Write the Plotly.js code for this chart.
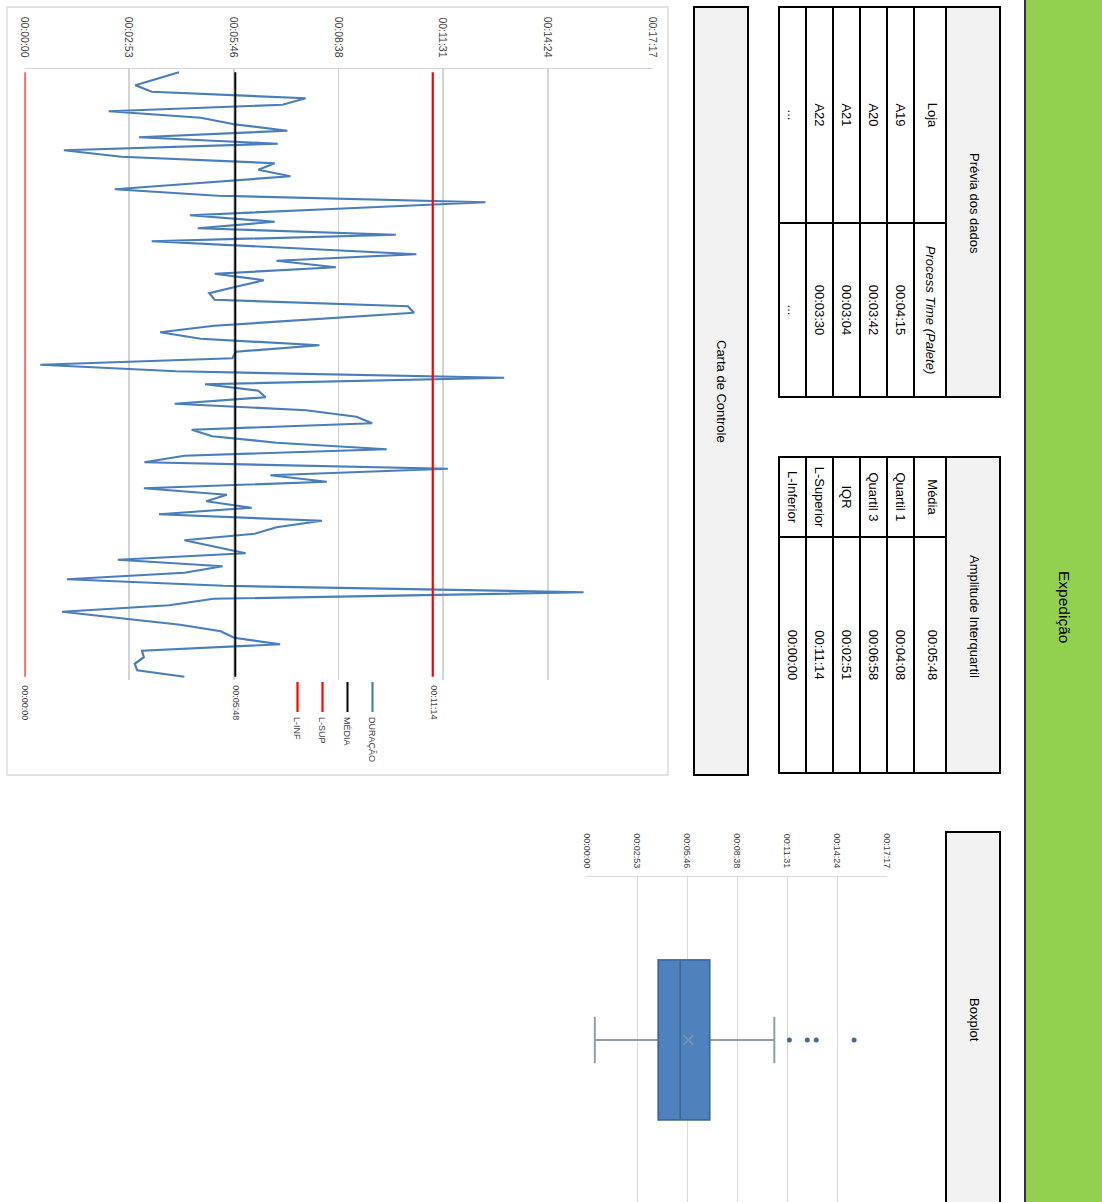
<!DOCTYPE html>
<html><head><meta charset="utf-8">
<script src="https://cdn.plot.ly/plotly-3.0.1.min.js"></script>
<style>
html,body{margin:0;padding:0;width:1102px;height:1202px;overflow:hidden;background:#fff;}
#wrap{position:absolute;left:0;top:0;width:1202px;height:1102px;transform-origin:0 0;}
#chart{width:1202px;height:1102px;}
</style></head><body><div id="wrap"><div id="chart"></div></div>
<script>
// ---- data (seconds) ----
const duracao = [255,220,183,210,464,426,139,291,346,434,
  189,418,65,160,413,386,439,295,149,319,
  761,517,273,413,286,613,210,430,647,416,
  514,314,395,349,305,314,633,643,480,313,
  224,291,487,349,343,26,250,792,298,386,
  398,248,465,548,574,276,310,416,598,264,
  198,699,406,499,197,334,300,375,222,491,
  416,380,264,315,365,154,327,264,70,328,
  923,312,239,62,160,257,324,346,422,194,
  197,182,186,264];
const mediaValue = 348;        // 00:05:48
const limiteSuperior = 674;    // 00:11:14
const limiteInferior = 0;      // 00:00:00
const lineLabels = ['00:05:48','00:11:14','00:00:00'];
const seriesNames = ['DURAÇÃO','MÉDIA','L-SUP','L-INF'];
const valueTickVals = [0,172.8,345.6,518.4,691.2,864,1036.8];
const valueTickText = ['00:00:00','00:02:53','00:05:46','00:08:38','00:11:31','00:14:24','00:17:17'];

const previaHeader = ['Loja','<i>Process Time (Palete)</i>'];
const previaLojas = ['A19','A20','A21','A22','...'];
const previaTimes = ['00:04:15','00:03:42','00:03:04','00:03:30','...'];

const ampLabels = ['Média','Quartil 1','Quartil 3','IQR','L-Superior','L-Inferior'];
const ampValues = ['00:05:48','00:04:08','00:06:58','00:02:51','00:11:14','00:00:00'];

const titles = {main:'Expedição', previa:'Prévia dos dados', amp:'Amplitude Interquartil', box:'Boxplot', carta:'Carta de Controle'};

// ---- helpers ----
const W = 1202, H = 1102;
const U = u => u / W;
const V = v => 1 - v / H;
const FONT = 'Liberation Sans, Arial, sans-serif';

const idx = duracao.map((_, i) => i);
const last = duracao.length - 1;
const mediaSeries = idx.map(() => mediaValue);
const supSeries = idx.map(() => limiteSuperior);
const infSeries = idx.map(() => limiteInferior);
const lastLabel = lbl => idx.map(i => i === last ? lbl : '');

// box statistics (Excel exclusive quartiles)
const sorted = [...duracao].sort((a, b) => a - b);
const n = sorted.length;
function qexc(p) {
  const pos = p * (n + 1) - 1;
  const lo = Math.floor(pos), fr = pos - lo;
  return sorted[lo] + fr * (sorted[lo + 1] - sorted[lo]);
}
const q1 = qexc(0.25), med = qexc(0.5), q3 = qexc(0.75);
const iqr = q3 - q1;
const lowF = Math.min(...sorted.filter(v => v >= q1 - 1.5 * iqr));
const upF = Math.max(...sorted.filter(v => v <= q3 + 1.5 * iqr));
const outliers = sorted.filter(v => v < lowF || v > upF);
const mean = duracao.reduce((a, b) => a + b, 0) / n;

const blue = '#4A7EBB';
const lblFont = {size:9, color:'#404040', family:FONT};
const hiddenMarker = {size:12, color:'rgba(0,0,0,0)', line:{width:0}};
const traces = [
  {type:'scatter', mode:'lines', x:idx, y:duracao, name:seriesNames[0], legendgroup:'a',
   line:{color:blue, width:2.2}, xaxis:'x', yaxis:'y'},
  {type:'scatter', mode:'lines+markers+text', x:idx, y:mediaSeries, name:seriesNames[1], legendgroup:'b',
   text:lastLabel(lineLabels[0]), textposition:'middle right', cliponaxis:false, textfont:lblFont,
   marker:hiddenMarker, line:{color:'#000000', width:2}, xaxis:'x', yaxis:'y'},
  {type:'scatter', mode:'lines+markers+text', x:idx, y:supSeries, name:seriesNames[2], legendgroup:'c',
   text:lastLabel(lineLabels[1]), textposition:'middle right', cliponaxis:false, textfont:lblFont,
   marker:hiddenMarker, line:{color:'#FF0000', width:2.2}, xaxis:'x', yaxis:'y'},
  {type:'scatter', mode:'lines+markers+text', x:idx, y:infSeries, name:seriesNames[3], legendgroup:'d',
   text:lastLabel(lineLabels[2]), textposition:'middle right', cliponaxis:false, textfont:lblFont,
   marker:hiddenMarker, line:{color:'#FF0000', width:2.2}, xaxis:'x', yaxis:'y'},
  // boxplot: whiskers (grey)
  {type:'box', x:[0], q1:[q1], median:[med], q3:[q3], lowerfence:[lowF], upperfence:[upF],
   width:0.49, whiskerwidth:0.29, fillcolor:'#4F81BD', line:{color:'#8D9EAD', width:2},
   boxpoints:false, showlegend:false, xaxis:'x2', yaxis:'y2', hoverinfo:'skip'},
  // boxplot: box body (blue outline)
  {type:'box', x:[0], q1:[q1], median:[med], q3:[q3], lowerfence:[q1], upperfence:[q3],
   width:0.49, whiskerwidth:0, fillcolor:'#4F81BD', line:{color:'#3B679A', width:1.5},
   boxpoints:false, showlegend:false, xaxis:'x2', yaxis:'y2', hoverinfo:'skip'},
  {type:'scatter', mode:'markers', x:outliers.map(() => 0), y:outliers, showlegend:false,
   marker:{color:'#44699A', size:5}, xaxis:'x2', yaxis:'y2', cliponaxis:false},
  {type:'scatter', mode:'markers', x:[0], y:[mean], showlegend:false,
   marker:{symbol:'x-thin', size:10, line:{color:'#7F94AC', width:1.3}}, xaxis:'x2', yaxis:'y2'},
  // tables
  {type:'table', domain:{x:[U(7), U(397)], y:[V(324), V(156)]}, columnwidth:[216, 174],
   header:{values:previaHeader, height:32, fill:{color:'#ffffff'}, line:{color:'#000', width:2},
           align:'center', font:{family:FONT, size:13, color:'#000'}},
   cells:{values:[previaLojas, previaTimes], height:27, fill:{color:'#ffffff'}, line:{color:'#000', width:2},
          align:'center', font:{family:FONT, size:13, color:'#000'}}},
  {type:'table', domain:{x:[U(457), U(773)], y:[V(324), V(156)]}, columnwidth:[80, 236],
   header:{values:[ampLabels[0], ampValues[0]], height:32, fill:{color:'#ffffff'}, line:{color:'#000', width:2},
           align:'center', font:{family:FONT, size:13, color:'#000'}},
   cells:{values:[ampLabels.slice(1), ampValues.slice(1)], height:27, fill:{color:'#ffffff'}, line:{color:'#000', width:2},
          align:'center', font:{family:FONT, size:13, color:'#000'}}}
];

const rect = (u0, v0, u1, v1, fill, lc, lw, layer) => ({type:'rect', xref:'paper', yref:'paper',
  x0:U(u0), x1:U(u1), y0:V(v1), y1:V(v0), fillcolor:fill, line:{color:lc, width:lw}, layer:layer || 'below'});

const ann = (u, v, text, size) => ({xref:'paper', yref:'paper', x:U(u), y:V(v), text:text, showarrow:false,
  xanchor:'center', yanchor:'middle', font:{family:FONT, size:size, color:'#000'}});

const layout = {
  width:W, height:H, margin:{l:0, r:0, t:0, b:0}, paper_bgcolor:'#ffffff', plot_bgcolor:'rgba(0,0,0,0)',
  showlegend:true,
  legend:{x:U(677), y:V(715), xanchor:'left', yanchor:'top', bgcolor:'rgba(0,0,0,0)',
          font:{family:FONT, size:9, color:'#404040'}, tracegroupgap:6, traceorder:'grouped'},
  xaxis:{domain:[U(69), U(680)], range:[-0.5, last + 0.5], showgrid:false, zeroline:false,
         showticklabels:false, ticks:'', showline:false},
  yaxis:{domain:[V(1077.5), V(449.5)], range:[0, 1036.8], tickvals:valueTickVals, ticktext:valueTickText,
         showgrid:true, gridcolor:'#D4D4D4', gridwidth:1.4, zeroline:false, showline:true, linecolor:'#D4D4D4',
         linewidth:1.4, ticks:'', ticklabelstandoff:8, tickfont:{family:FONT, size:10.5, color:'#404040'}},
  xaxis2:{domain:[U(877), 1], range:[-0.5, 0.497], showgrid:false, zeroline:false, showticklabels:false,
          ticks:'', showline:false, anchor:'y2'},
  yaxis2:{domain:[V(514.7), V(215)], range:[0, 1036.8], tickvals:valueTickVals, ticktext:valueTickText,
          showgrid:true, gridcolor:'#D9D9D9', gridwidth:1, zeroline:false, showline:true, linecolor:'#D9D9D9',
          ticks:'', ticklabelstandoff:6, tickfont:{family:FONT, size:9, color:'#404040'}, anchor:'x2'},
  shapes:[
    rect(-5, -5, 1207, 77, '#92D050', '#333333', 2),
    rect(7, 102, 397, 156, '#F2F2F2', '#000000', 2),
    rect(457, 102, 773, 156, '#F2F2F2', '#000000', 2),
    rect(832, 102, 1212, 156, '#F2F2F2', '#000000', 2),
    rect(7, 354, 775, 408, '#F2F2F2', '#000000', 2),
    rect(7, 434, 775, 1095, '#FFFFFF', '#D9D9D9', 1.3)
  ],
  annotations:[
    ann(607, 37, titles.main, 15.5),
    ann(203, 128, titles.previa, 13),
    ann(616, 128, titles.amp, 13),
    ann(1020, 128, titles.box, 13),
    ann(391, 381, titles.carta, 13)
  ]
};

// draw unrotated (so text measurement is correct), then turn the page as in the reference
Plotly.newPlot('chart', traces, layout, {staticPlot:true, displayModeBar:false}).then(() => {
  document.getElementById('wrap').style.transform = 'translate(1102px,0) rotate(90deg)';
});
</script>
</body></html>
